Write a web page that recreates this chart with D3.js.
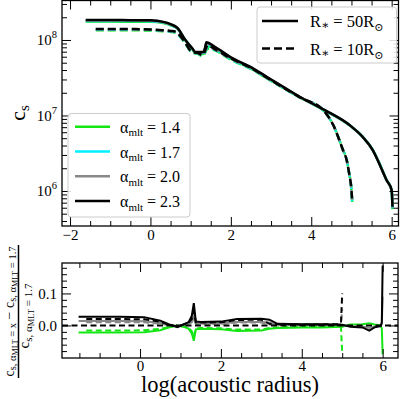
<!DOCTYPE html>
<html><head><meta charset="utf-8">
<script src="https://cdn.jsdelivr.net/npm/d3@7"></script>
<style>body{margin:0;background:#fff}svg{display:block}text{font-family:"Liberation Serif","Times New Roman","DejaVu Serif",serif}</style>
</head><body><svg id="c" width="400" height="399"></svg>
<script>
// ---------- data ----------
const alphas = ["1.4", "1.7", "2.0", "2.3"];
const colors = ["#14e614", "#00f0ff", "#888888", "#000000"];
const radiusLabels = ["50", "10"];

// top panel: log10(acoustic radius) vs log10(c_s), R* = 50 Rsun
const topX50 = [-1.61,-1.0,-0.5,0.0,0.32,0.5,0.67,0.87,1.04,1.12,1.31,1.36,1.39,1.6,2.0,2.5,2.9,3.3,3.72,4.34,4.96,5.28,5.53,5.65,5.87,6.0,6.02];
const topLogCs50_14 = [8.244,8.244,8.242,8.24,8.223,8.195,8.152,7.992,7.88,7.82,7.815,7.86,7.92,7.892,7.753,7.623,7.493,7.371,7.238,7.066,6.866,6.717,6.545,6.419,6.15,6.01,5.76];
const topLogCs50_17 = [8.253,8.253,8.251,8.249,8.23,8.2,8.154,7.995,7.885,7.83,7.826,7.88,7.94,7.9,7.76,7.63,7.50,7.375,7.241,7.068,6.868,6.716,6.543,6.416,6.148,6.01,5.77];
const topLogCs50_20 = [8.259,8.259,8.257,8.254,8.235,8.205,8.156,7.997,7.887,7.835,7.833,7.89,7.955,7.905,7.765,7.635,7.505,7.378,7.243,7.069,6.869,6.715,6.541,6.413,6.147,6.01,5.78];
const topLogCs50_23 = [8.265,8.265,8.263,8.26,8.24,8.21,8.16,8.00,7.89,7.84,7.84,7.90,7.97,7.91,7.77,7.64,7.51,7.38,7.245,7.07,6.87,6.715,6.54,6.41,6.146,6.01,5.79];

// top panel, R* = 10 Rsun
const topX10 = [-1.36,-1.0,-0.5,0.0,0.3,0.5,0.62,0.82,1.04,1.17,1.3,1.36,1.42,1.6,2.0,2.5,2.9,3.3,3.72,4.3,4.55,4.79,4.88,4.94,5.0,5.02];
const topLogCs10_14 = [8.130,8.130,8.129,8.125,8.116,8.107,8.097,7.99,7.83,7.817,7.785,7.83,7.885,7.863,7.738,7.617,7.49,7.363,7.236,7.067,6.87,6.544,6.416,6.246,6.01,5.84];
const topLogCs10_17 = [8.137,8.137,8.136,8.132,8.122,8.112,8.102,7.994,7.834,7.822,7.792,7.84,7.9,7.87,7.745,7.622,7.494,7.366,7.238,7.068,6.87,6.542,6.414,6.244,6.01,5.845];
const topLogCs10_20 = [8.142,8.142,8.141,8.136,8.126,8.116,8.106,7.997,7.837,7.826,7.796,7.85,7.915,7.875,7.75,7.626,7.497,7.368,7.239,7.069,6.87,6.541,6.412,6.242,6.01,5.85];
const topLogCs10_23 = [8.146,8.146,8.145,8.14,8.13,8.12,8.11,8.00,7.84,7.83,7.80,7.86,7.93,7.88,7.755,7.63,7.50,7.37,7.24,7.07,6.87,6.54,6.41,6.24,6.01,5.855];

// bottom panel: relative difference to alpha = 1.7, R* = 50 Rsun
const botX50 = [-1.52,-1.0,-0.5,0.1,0.5,0.75,0.93,1.1,1.2,1.28,1.33,1.38,1.5,2.0,2.4,3.0,3.2,3.4,4.0,4.5,5.0,5.2,5.5,5.67,5.8,5.95,5.98,6.0];
const botD50_14 = [-0.022,-0.022,-0.022,-0.021,-0.015,-0.005,0.0,-0.005,-0.01,-0.025,-0.048,-0.012,-0.01,-0.012,-0.017,-0.016,-0.01,-0.008,-0.006,-0.006,-0.004,0.003,0.004,0.007,0.003,0.0,-0.01,-0.09];
const botD50_20 = [0.014,0.014,0.014,0.013,0.008,0.001,-0.003,0.003,0.005,0.015,0.035,0.006,0.006,0.006,0.011,0.011,0.009,0.003,0.002,0.002,0.001,-0.002,-0.003,-0.008,-0.003,-0.001,0.005,0.09];
const botD50_23 = [0.027,0.027,0.027,0.026,0.015,0.002,-0.005,0.005,0.01,0.03,0.07,0.012,0.011,0.012,0.02,0.021,0.018,0.005,0.004,0.004,0.002,-0.004,-0.006,-0.016,-0.006,-0.002,0.01,0.187];

// bottom panel, R* = 10 Rsun
const botX10 = [-1.33,-1.0,-0.5,0.1,0.5,0.75,0.93,1.1,1.2,1.28,1.33,1.38,1.5,2.0,2.4,3.0,3.2,3.4,4.0,4.5,4.9,4.97,5.0];
const botD10_14 = [-0.016,-0.016,-0.016,-0.015,-0.011,-0.004,0.0,-0.004,-0.007,-0.018,-0.035,-0.009,-0.008,-0.009,-0.013,-0.013,-0.008,-0.006,-0.005,-0.004,-0.004,-0.006,-0.086];
const botD10_20 = [0.01,0.01,0.01,0.01,0.006,0.0,-0.002,0.002,0.004,0.01,0.022,0.005,0.005,0.005,0.009,0.009,0.003,0.002,0.002,0.002,0.002,0.004,0.05];
const botD10_23 = [0.02,0.02,0.02,0.019,0.012,0.001,-0.004,0.004,0.008,0.02,0.045,0.01,0.009,0.01,0.017,0.018,0.005,0.004,0.003,0.003,0.004,0.008,0.1];

const xMajorTop = [-2, 0, 2, 4, 6];
const xMajorBot = [0, 2, 4, 6];
const yMajorTop = [1e6, 1e7, 1e8];
const yMajorBot = [0.0, 0.1];

// ---------- layout ----------
const svg = d3.select("#c");
const T = {l: 62, r: 398.5, t: 0.5, b: 226};
const B = {l: 62, r: 398, t: 263, b: 358};

const xTop = d3.scaleLinear().domain([-2.2, 6.17]).range([T.l, T.r]);
const yTop = d3.scaleLog().domain([Math.pow(10, 5.536), Math.pow(10, 8.523)]).range([T.b, T.t]);
const xBot = d3.scaleLinear().domain([-1.93, 6.38]).range([B.l, B.r]);
const yBot = d3.scaleLinear().domain([-0.1016, 0.195]).range([B.b, B.t]);

const defs = svg.append("defs");
defs.append("clipPath").attr("id", "clipT").append("rect").attr("x", T.l).attr("y", T.t).attr("width", T.r - T.l).attr("height", T.b - T.t);
defs.append("clipPath").attr("id", "clipB").append("rect").attr("x", B.l).attr("y", B.t).attr("width", B.r - B.l).attr("height", B.b - B.t);

// ---------- top panel lines ----------
const topSets = [
  [topX50, [topLogCs50_14, topLogCs50_17, topLogCs50_20, topLogCs50_23]],
  [topX10, [topLogCs10_14, topLogCs10_17, topLogCs10_20, topLogCs10_23]]
];
const lineTop = d3.line().x(d => xTop(d[0])).y(d => yTop(Math.pow(10, d[1]))).curve(d3.curveMonotoneX);
const gT = svg.append("g").attr("clip-path", "url(#clipT)");
alphas.forEach((a, i) => {
  topSets.forEach((set, r) => {
    const pts = set[0].map((x, k) => [x, set[1][i][k]]);
    gT.append("path").attr("d", lineTop(pts)).attr("fill", "none")
      .attr("stroke", colors[i]).attr("stroke-width", 2.5)
      .attr("stroke-dasharray", r === 1 ? "8,4" : null);
  });
});

// ---------- bottom panel lines ----------
const botSets = [
  [botX50, {0: botD50_14, 2: botD50_20, 3: botD50_23}],
  [botX10, {0: botD10_14, 2: botD10_20, 3: botD10_23}]
];
const lineBot = d3.line().x(d => xBot(d[0])).y(d => yBot(d[1]));
const gB = svg.append("g").attr("clip-path", "url(#clipB)");
alphas.forEach((a, i) => {
  botSets.forEach((set, r) => {
    const vals = set[1][i];
    if (!vals) return;
    const pts = set[0].map((x, k) => [x, vals[k]]);
    gB.append("path").attr("d", lineBot(pts)).attr("fill", "none")
      .attr("stroke", colors[i]).attr("stroke-width", 2)
      .attr("stroke-dasharray", r === 1 ? "6,3.5" : null);
  });
});
gB.append("line").attr("x1", B.l).attr("x2", B.r).attr("y1", yBot(0)).attr("y2", yBot(0))
  .attr("stroke", "#000").attr("stroke-width", 2).attr("stroke-dasharray", "6,3.5");

// ---------- axes ----------
function styleAxis(g) {
  g.select(".domain").remove();
  g.attr("font-family", "Liberation Serif, Times New Roman, serif").attr("font-size", 15);
  g.selectAll("line").attr("stroke", "#000").attr("stroke-width", 1);
  g.selectAll("text").attr("fill", "#000");
  return g;
}
function minorLin(lo, hi, step, majors) {
  return d3.range(lo, hi + 1e-9, step).map(v => +v.toFixed(4)).filter(v => !majors.some(m => Math.abs(m - v) < 1e-6));
}
const xMinorTop = minorLin(-2, 6, 0.5, xMajorTop);
const xMinorBot = minorLin(-1.5, 6, 0.5, xMajorBot);
const yMinorBot = minorLin(-0.08, 0.18, 0.02, yMajorBot);
const yMinorTop = [];
[5, 6, 7, 8].forEach(n => { for (let k = 2; k <= 9; k++) { const v = k * Math.pow(10, n); if (v > yTop.domain()[0] && v < yTop.domain()[1]) yMinorTop.push(v); } });

// top panel axes
styleAxis(svg.append("g").attr("transform", `translate(0,${T.b})`).call(d3.axisBottom(xTop).tickValues(xMajorTop).tickSize(-9).tickSizeOuter(0).tickPadding(3.4)));
styleAxis(svg.append("g").attr("transform", `translate(0,${T.b})`).call(d3.axisBottom(xTop).tickValues(xMinorTop).tickSize(-5).tickSizeOuter(0).tickFormat("")));
styleAxis(svg.append("g").attr("transform", `translate(0,${T.t})`).call(d3.axisTop(xTop).tickValues(xMajorTop).tickSize(-9).tickSizeOuter(0).tickFormat("")));
styleAxis(svg.append("g").attr("transform", `translate(0,${T.t})`).call(d3.axisTop(xTop).tickValues(xMinorTop).tickSize(-5).tickSizeOuter(0).tickFormat("")));
const gyl = styleAxis(svg.append("g").attr("transform", `translate(${T.l},0)`).call(d3.axisLeft(yTop).tickValues(yMajorTop).tickSize(-9).tickSizeOuter(0).tickPadding(5).tickFormat(() => "")));
gyl.selectAll(".tick text").each(function (d) {
  const t = d3.select(this);
  t.append("tspan").text("10");
  t.append("tspan").attr("dy", -7).attr("font-size", 10.5).text(Math.round(Math.log10(d)));
});
styleAxis(svg.append("g").attr("transform", `translate(${T.l},0)`).call(d3.axisLeft(yTop).tickValues(yMinorTop).tickSize(-5).tickSizeOuter(0).tickFormat("")));
styleAxis(svg.append("g").attr("transform", `translate(${T.r},0)`).call(d3.axisRight(yTop).tickValues(yMajorTop).tickSize(-9).tickSizeOuter(0).tickFormat("")));
styleAxis(svg.append("g").attr("transform", `translate(${T.r},0)`).call(d3.axisRight(yTop).tickValues(yMinorTop).tickSize(-5).tickSizeOuter(0).tickFormat("")));

// bottom panel axes
styleAxis(svg.append("g").attr("transform", `translate(0,${B.b})`).call(d3.axisBottom(xBot).tickValues(xMajorBot).tickSize(-9).tickSizeOuter(0).tickPadding(2.5)));
styleAxis(svg.append("g").attr("transform", `translate(0,${B.b})`).call(d3.axisBottom(xBot).tickValues(xMinorBot).tickSize(-5).tickSizeOuter(0).tickFormat("")));
styleAxis(svg.append("g").attr("transform", `translate(0,${B.t})`).call(d3.axisTop(xBot).tickValues(xMajorBot).tickSize(-9).tickSizeOuter(0).tickFormat("")));
styleAxis(svg.append("g").attr("transform", `translate(0,${B.t})`).call(d3.axisTop(xBot).tickValues(xMinorBot).tickSize(-5).tickSizeOuter(0).tickFormat("")));
styleAxis(svg.append("g").attr("transform", `translate(${B.l},0)`).call(d3.axisLeft(yBot).tickValues(yMajorBot).tickSize(-9).tickSizeOuter(0).tickPadding(5).tickFormat(d3.format(".1f"))));
styleAxis(svg.append("g").attr("transform", `translate(${B.l},0)`).call(d3.axisLeft(yBot).tickValues(yMinorBot).tickSize(-5).tickSizeOuter(0).tickFormat("")));
styleAxis(svg.append("g").attr("transform", `translate(${B.r},0)`).call(d3.axisRight(yBot).tickValues(yMajorBot).tickSize(-9).tickSizeOuter(0).tickFormat("")));
styleAxis(svg.append("g").attr("transform", `translate(${B.r},0)`).call(d3.axisRight(yBot).tickValues(yMinorBot).tickSize(-5).tickSizeOuter(0).tickFormat("")));

// frames
[[T.l, T.t, T.r, T.b], [B.l, B.t, B.r, B.b]].forEach(f => {
  svg.append("rect").attr("x", f[0]).attr("y", f[1]).attr("width", f[2] - f[0]).attr("height", f[3] - f[1])
    .attr("fill", "none").attr("stroke", "#000").attr("stroke-width", 1.3);
});

// ---------- legends ----------
// radius legend (top right)
svg.append("rect").attr("x", 257).attr("y", 7).attr("width", 139.5).attr("height", 56).attr("rx", 3)
  .attr("fill", "#fff").attr("fill-opacity", 0.85).attr("stroke", "#cccccc").attr("stroke-width", 1);
radiusLabels.forEach((r, j) => {
  const yy = 21 + j * 27.5;
  svg.append("line").attr("x1", 262).attr("x2", 298).attr("y1", yy).attr("y2", yy)
    .attr("stroke", "#000").attr("stroke-width", 2.5).attr("stroke-dasharray", j === 1 ? "8,4" : null);
  const t = svg.append("text").attr("x", 310).attr("y", yy + 6).attr("font-size", 16.5).attr("fill", "#000");
  t.append("tspan").text("R");
  t.append("tspan").attr("font-size", 12).attr("dy", 2).text("\u2217");
  t.append("tspan").attr("font-size", 16.5).attr("dy", -2).text(" = " + r + "R");
  t.append("tspan").attr("font-size", 11).attr("dy", 4).text("\u2299");
});

// alpha legend (top panel, lower left)
svg.append("rect").attr("x", 68).attr("y", 113.5).attr("width", 122).attr("height", 103.5).attr("rx", 3)
  .attr("fill", "#fff").attr("fill-opacity", 0.85).attr("stroke", "#cccccc").attr("stroke-width", 1);
alphas.forEach((a, i) => {
  const yy = 126.7 + i * 24.8;
  svg.append("line").attr("x1", 75).attr("x2", 110).attr("y1", yy).attr("y2", yy)
    .attr("stroke", colors[i]).attr("stroke-width", 2.5);
  const t = svg.append("text").attr("x", 120).attr("y", yy + 6).attr("font-size", 16).attr("fill", "#000");
  t.append("tspan").text("\u03b1");
  t.append("tspan").attr("font-size", 11).attr("dy", 3.5).text("mlt");
  t.append("tspan").attr("font-size", 16).attr("dy", -3.5).text(" = " + a);
});

// ---------- axis labels ----------
const yl = svg.append("text").attr("transform", "translate(25,113) rotate(-90)").attr("text-anchor", "middle")
  .attr("font-size", 22).attr("fill", "#000");
yl.append("tspan").text("c");
yl.append("tspan").attr("font-size", 15).attr("dy", 4).text("s");

svg.append("text").attr("x", 230).attr("y", 392).attr("text-anchor", "middle").attr("font-size", 22.5)
  .attr("fill", "#000").text("log(acoustic radius)");

// fraction y-label of bottom panel
const num = svg.append("text").attr("transform", "translate(13.5,311.5) rotate(-90)").attr("text-anchor", "middle")
  .attr("font-size", 14).attr("fill", "#000");
num.append("tspan").text("c");
num.append("tspan").attr("font-size", 10.5).attr("dy", 2.5).text("s, \u03b1");
num.append("tspan").attr("font-size", 8).attr("dy", 1.5).text("MLT");
num.append("tspan").attr("font-size", 10.5).attr("dy", -1.5).text(" = x");
num.append("tspan").attr("font-size", 14).attr("dy", -2.5).text(" \u2212 c");
num.append("tspan").attr("font-size", 10.5).attr("dy", 2.5).text("s, \u03b1");
num.append("tspan").attr("font-size", 8).attr("dy", 1.5).text("MLT");
num.append("tspan").attr("font-size", 10.5).attr("dy", -1.5).text(" = 1.7");
svg.append("line").attr("x1", 18.5).attr("x2", 18.5).attr("y1", 245).attr("y2", 378).attr("stroke", "#000").attr("stroke-width", 1.5);
const den = svg.append("text").attr("transform", "translate(29,316) rotate(-90)").attr("text-anchor", "middle")
  .attr("font-size", 15).attr("fill", "#000");
den.append("tspan").text("c");
den.append("tspan").attr("font-size", 11).attr("dy", 3).text("s, \u03b1");
den.append("tspan").attr("font-size", 8.5).attr("dy", 2).text("MLT");
den.append("tspan").attr("font-size", 11).attr("dy", -2).text(" = 1.7");
</script>
</body></html>
